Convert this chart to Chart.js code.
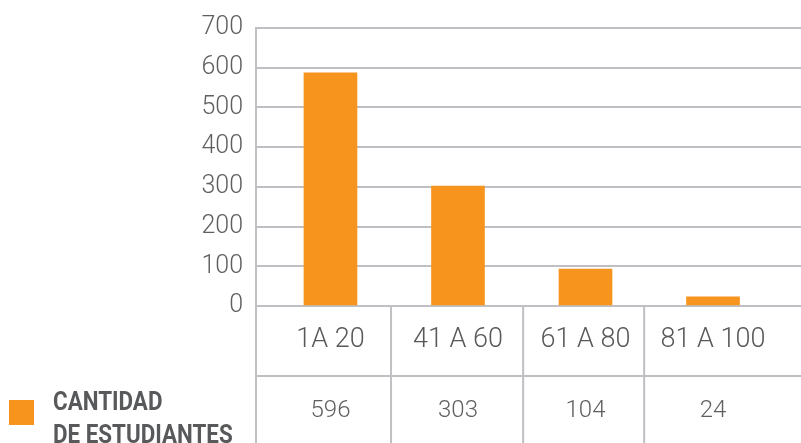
<!DOCTYPE html>
<html>
<head>
<meta charset="utf-8">
<script src="https://cdn.jsdelivr.net/npm/chart.js@4"></script>
<style>
  body { margin: 0; background: #fff; }
  #wrap { position: relative; width: 801px; height: 443px; overflow: hidden; }
  #leyenda-cuadro { position: absolute; left: 9px; top: 400px; width: 25px; height: 25px; background: #f7941e; }
  #leyenda-texto {
    position: absolute; left: 53px; top: 385px;
    font-family: Roboto, sans-serif; font-weight: 700; font-size: 25px; line-height: 33px;
    color: #58595b; white-space: nowrap;
    transform: scaleX(0.895); transform-origin: left top;
  }
</style>
</head>
<body>
<div id="wrap">
  <canvas id="grafico" width="801" height="443"></canvas>
  <div id="leyenda-cuadro"></div>
  <div id="leyenda-texto">CANTIDAD<br>DE ESTUDIANTES</div>
</div>
<script>
// Rangos de notas (categorías)
const categorias = ["1A 20", "41 A 60", "61 A 80", "81 A 100"];
// Altura de las barras tal como se ve en la imagen
const alturas = [587, 302, 93, 23];
// Cantidades escritas en la tabla
const cantidades = ["596", "303", "104", "24"];
// Marcas del eje Y
const marcasY = [0, 100, 200, 300, 400, 500, 600, 700];

const gris = "#c0c0c4";
const texto = "#5e5f61";

// Posiciones de las barras sobre un eje lineal (1, 2, 3, 4)
const puntos = alturas.map((v, i) => ({ x: i + 1, y: v }));

// Líneas de la tabla bajo el eje
const tablaPlugin = {
    id: "tabla",
    afterDraw(chart) {
        const ctx = chart.ctx;
        const x = chart.scales.x;
        const area = chart.chartArea;
        const divisiones = [x.getPixelForValue(1.475), x.getPixelForValue(2.511), x.getPixelForValue(3.46)];
        ctx.save();
        ctx.strokeStyle = gris;
        ctx.lineWidth = 2;
        ctx.beginPath();
        ctx.moveTo(area.left, x.bottom);
        ctx.lineTo(chart.width, x.bottom);
        ctx.moveTo(area.left, area.bottom);
        ctx.lineTo(area.left, chart.height);
        divisiones.forEach(px => {
            ctx.moveTo(px, area.bottom);
            ctx.lineTo(px, chart.height);
        });
        ctx.stroke();
        ctx.restore();
    }
};

const fijarTicks = (scale) => {
    scale.ticks = categorias.map((c, i) => ({ value: i + 1 }));
};

const config = {
    type: "bar",
    data: {
        datasets: [{
            label: "CANTIDAD DE ESTUDIANTES",
            data: puntos,
            backgroundColor: "#f7941e",
            borderWidth: 0,
            barThickness: 53,
            xAxisID: "x",
            yAxisID: "y"
        }]
    },
    options: {
        responsive: false,
        animation: false,
        layout: { padding: { top: 26, right: 0, left: 0, bottom: 0 } },
        plugins: {
            legend: { display: false },
            tooltip: { enabled: false }
        },
        scales: {
            x: {
                type: "linear",
                position: "bottom",
                weight: 0,
                min: 0.416,
                max: 4.69,
                offset: false,
                grid: { display: false, drawTicks: false },
                border: { display: false },
                afterBuildTicks: fijarTicks,
                afterFit: (s) => { s.height = 70; },
                ticks: {
                    autoSkip: false,
                    maxRotation: 0,
                    padding: 18,
                    color: "#58595b",
                    font: { family: "Roboto", size: 27, weight: 300 },
                    callback: (v) => categorias[v - 1] || ""
                }
            },
            x2: {
                type: "linear",
                position: "bottom",
                weight: 1,
                min: 0.416,
                max: 4.69,
                offset: false,
                grid: { display: false, drawTicks: false },
                border: { display: false },
                afterBuildTicks: fijarTicks,
                afterFit: (s) => { s.height = 67; },
                ticks: {
                    autoSkip: false,
                    maxRotation: 0,
                    padding: 21,
                    color: texto,
                    font: { family: "Roboto", size: 24, weight: 300 },
                    callback: (v) => cantidades[v - 1] || ""
                }
            },
            y: {
                min: 0,
                max: 700,
                afterBuildTicks: (s) => { s.ticks = marcasY.map(v => ({ value: v })); },
                afterFit: (s) => { s.width = 256; },
                grid: { color: gris, lineWidth: 2, drawTicks: false },
                border: { display: true, color: gris, width: 2 },
                ticks: {
                    padding: 13,
                    color: texto,
                    font: { family: "Roboto", size: 25, weight: 300 }
                }
            }
        }
    },
    plugins: [tablaPlugin]
};

const grafico = new Chart(document.getElementById("grafico"), config);
</script>
</body>
</html>
